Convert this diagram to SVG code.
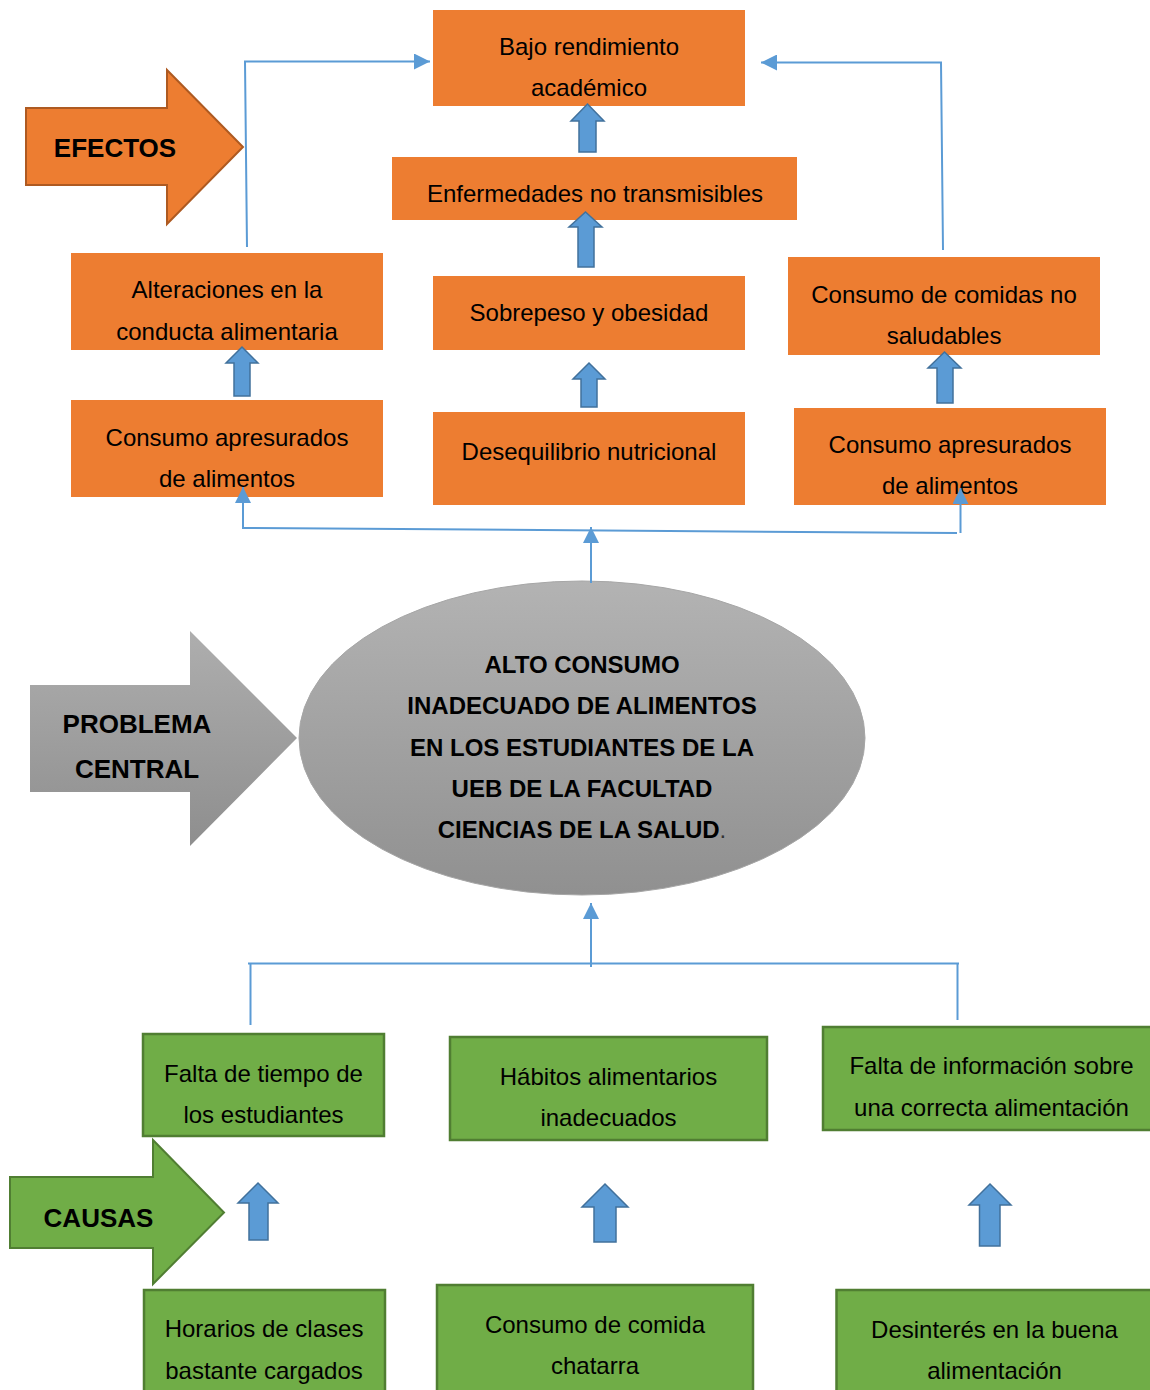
<svg xmlns="http://www.w3.org/2000/svg" width="1150" height="1390" viewBox="0 0 1150 1390">
<defs>
<linearGradient id="gEll" x1="0" y1="0" x2="0" y2="1">
<stop offset="0" stop-color="#B3B3B3"/>
<stop offset="1" stop-color="#909090"/>
</linearGradient>
<linearGradient id="gArr" x1="0" y1="0" x2="0" y2="1">
<stop offset="0" stop-color="#AEAEAE"/>
<stop offset="1" stop-color="#8E8E8E"/>
</linearGradient>
<marker id="ah" markerUnits="userSpaceOnUse" markerWidth="16" markerHeight="16" viewBox="0 0 16 16" refX="16" refY="8" orient="auto">
<path d="M0,0 L16,8 L0,16 z" fill="#5B9BD5"/>
</marker>
</defs>
<style>
.ob{fill:#ED7D31;}
.gb{fill:#70AD47;stroke:#507E32;stroke-width:2.5;}
.t{font-family:"Liberation Sans",Arial,sans-serif;font-size:24px;fill:#000;text-anchor:middle;}
.tb{font-family:"Liberation Sans",Arial,sans-serif;font-size:24px;font-weight:bold;fill:#000;text-anchor:middle;}
.lab{font-family:"Liberation Sans",Arial,sans-serif;font-size:26px;font-weight:bold;fill:#000;text-anchor:middle;}
.ba{fill:#5B9BD5;stroke:#41719C;stroke-width:1.5;}
.cn{fill:none;stroke:#5B9BD5;stroke-width:2;}
</style>
<rect width="1150" height="1390" fill="#FFFFFF"/>

<g id="efectos-label">
<path d="M26,108 L167,108 L167,70 L243,147 L167,224 L167,185 L26,185 Z" fill="#ED7D31" stroke="#AE5A21" stroke-width="2"/>
<text class="lab" x="115" y="157">EFECTOS</text>
</g>

<g id="bajo-rendimiento">
<rect class="ob" x="433" y="10" width="312" height="96"/>
<text class="t" x="589" y="55">Bajo rendimiento</text>
<text class="t" x="589" y="96">académico</text>
</g>

<g id="enfermedades">
<rect class="ob" x="392" y="157" width="405" height="63"/>
<text class="t" x="595" y="202">Enfermedades no transmisibles</text>
</g>

<g id="alteraciones">
<rect class="ob" x="71" y="253" width="312" height="97"/>
<text class="t" x="227" y="298">Alteraciones en la</text>
<text class="t" x="227" y="340">conducta alimentaria</text>
</g>

<g id="sobrepeso">
<rect class="ob" x="433" y="276" width="312" height="74"/>
<text class="t" x="589" y="321">Sobrepeso y obesidad</text>
</g>

<g id="comidas-no-saludables">
<rect class="ob" x="788" y="257" width="312" height="98"/>
<text class="t" x="944" y="303">Consumo de comidas no</text>
<text class="t" x="944" y="344">saludables</text>
</g>

<g id="apresurados-izq">
<rect class="ob" x="71" y="400" width="312" height="97"/>
<text class="t" x="227" y="446">Consumo apresurados</text>
<text class="t" x="227" y="487">de alimentos</text>
</g>

<g id="desequilibrio">
<rect class="ob" x="433" y="412" width="312" height="93"/>
<text class="t" x="589" y="460">Desequilibrio nutricional</text>
</g>

<g id="apresurados-der">
<rect class="ob" x="794" y="408" width="312" height="97"/>
<text class="t" x="950" y="453">Consumo apresurados</text>
<text class="t" x="950" y="494">de alimentos</text>
</g>

<g id="problema-label">
<path d="M30,685 L190,685 L190,631 L297,738 L190,846 L190,792 L30,792 Z" fill="url(#gArr)"/>
<text class="lab" x="137" y="733">PROBLEMA</text>
<text class="lab" x="137" y="778">CENTRAL</text>
</g>

<g id="problema-central">
<ellipse cx="582" cy="738" rx="283" ry="157" fill="url(#gEll)" stroke="#A6A6A6" stroke-width="1"/>
<text class="tb" x="582" y="673">ALTO CONSUMO</text>
<text class="tb" x="582" y="714">INADECUADO DE ALIMENTOS</text>
<text class="tb" x="582" y="756">EN LOS ESTUDIANTES DE LA</text>
<text class="tb" x="582" y="797">UEB DE LA FACULTAD</text>
<text class="tb" x="582" y="838">CIENCIAS DE LA SALUD<tspan font-weight="normal" fill="#333333">.</tspan></text>
</g>

<g id="falta-tiempo">
<rect class="gb" x="143" y="1034" width="241" height="102"/>
<text class="t" x="263.5" y="1082">Falta de tiempo de</text>
<text class="t" x="263.5" y="1123">los estudiantes</text>
</g>

<g id="habitos">
<rect class="gb" x="450" y="1037" width="317" height="103"/>
<text class="t" x="608.5" y="1085">Hábitos alimentarios</text>
<text class="t" x="608.5" y="1126">inadecuados</text>
</g>

<g id="falta-informacion">
<rect class="gb" x="823" y="1027" width="337" height="103"/>
<text class="t" x="991.5" y="1074">Falta de información sobre</text>
<text class="t" x="991.5" y="1116">una correcta alimentación</text>
</g>

<g id="causas-label">
<path d="M10,1177 L153,1177 L153,1140 L224,1212.5 L153,1284 L153,1248 L10,1248 Z" fill="#70AD47" stroke="#507E32" stroke-width="2"/>
<text class="lab" x="98.5" y="1227">CAUSAS</text>
</g>

<g id="horarios">
<rect class="gb" x="144" y="1290" width="241" height="110"/>
<text class="t" x="264" y="1337">Horarios de clases</text>
<text class="t" x="264" y="1379">bastante cargados</text>
</g>

<g id="comida-chatarra">
<rect class="gb" x="437" y="1285" width="316" height="115"/>
<text class="t" x="595" y="1333">Consumo de comida</text>
<text class="t" x="595" y="1374">chatarra</text>
</g>

<g id="desinteres">
<rect class="gb" x="836.5" y="1290" width="316" height="110"/>
<text class="t" x="994.5" y="1338">Desinterés en la buena</text>
<text class="t" x="994.5" y="1379">alimentación</text>
</g>

<g id="block-arrows">
<path class="ba" d="M587.5,104 L604,121 L596,121 L596,152 L579,152 L579,121 L571,121 Z"/>
<path class="ba" d="M585.5,212 L602,227 L594,227 L594,267 L578,267 L578,227 L569,227 Z"/>
<path class="ba" d="M589,363 L605,379 L597,379 L597,407 L581,407 L581,379 L573,379 Z"/>
<path class="ba" d="M242,347 L258,363 L250,363 L250,396 L234,396 L234,363 L226,363 Z"/>
<path class="ba" d="M944.5,352 L961,368 L953,368 L953,403 L937,403 L937,368 L928,368 Z"/>
<path class="ba" d="M258,1183 L278,1203 L268,1203 L268,1240 L249,1240 L249,1203 L238,1203 Z"/>
<path class="ba" d="M605,1184 L628,1207 L616,1207 L616,1242 L594,1242 L594,1207 L582,1207 Z"/>
<path class="ba" d="M990,1184 L1011,1205 L1000,1205 L1000,1246 L979.5,1246 L979.5,1205 L969,1205 Z"/>
</g>

<g id="connectors">
<path class="cn" d="M247,247 L245,61.5 L430,61.5" marker-end="url(#ah)"/>
<path class="cn" d="M943,250 L941,62.5 L761,62.5" marker-end="url(#ah)"/>
<path class="cn" d="M243,528 L957,533"/>
<path class="cn" d="M243,529 L243,487" marker-end="url(#ah)"/>
<path class="cn" d="M960.5,533 L960.5,488" marker-end="url(#ah)"/>
<path class="cn" d="M591,583 L591,527" marker-end="url(#ah)"/>
<path class="cn" d="M591,967 L591,903" marker-end="url(#ah)"/>
<path class="cn" d="M248,963.5 L959,963.5"/>
<path class="cn" d="M250.5,963.5 L250.5,1025"/>
<path class="cn" d="M957.5,963.5 L957.5,1020"/>
</g>
</svg>
